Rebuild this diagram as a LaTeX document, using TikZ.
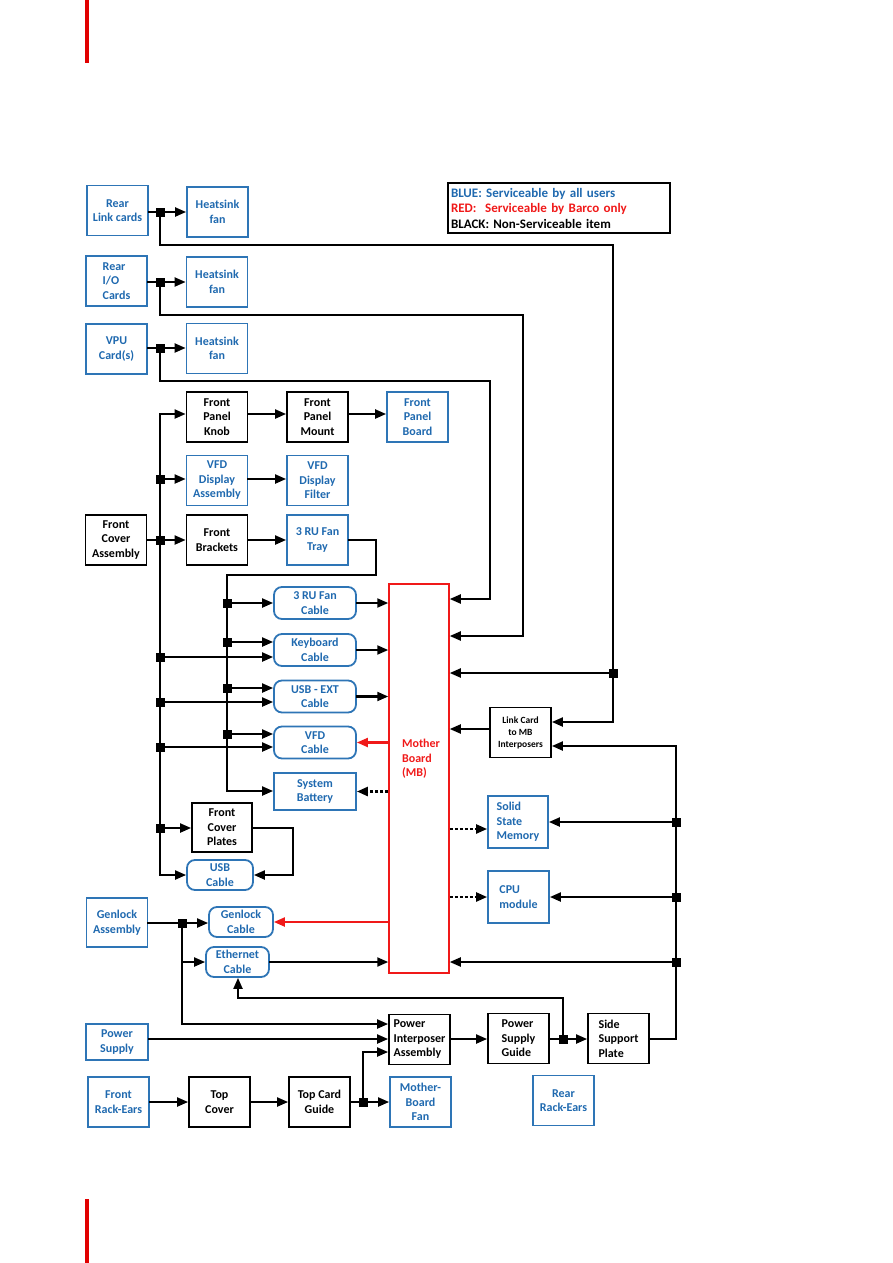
\documentclass[tikz,border=0pt]{standalone}
\usepackage{fontspec}
\setmainfont{Carlito}
\usetikzlibrary{arrows.meta}
\definecolor{bblue}{RGB}{46,117,182}
\definecolor{tblue}{RGB}{31,105,175}
\definecolor{rred}{RGB}{240,25,25}
\definecolor{barred}{RGB}{225,0,0}
\begin{document}
\begin{tikzpicture}[x=1pt,y=-1pt,
  base/.style={rectangle, inner sep=0pt, line width=1.8pt, minimum width=61pt, minimum height=50pt,
    font=\bfseries\fontsize{12}{14.5}\selectfont, align=center},
  bk/.style={base, draw=black, text=black},
  bl/.style={base, draw=bblue, text=tblue},
  cab/.style={bl, rounded corners=8pt, minimum width=82pt, minimum height=32pt},
  mbs/.style={rectangle, draw=rred, line width=1.5pt, minimum width=60pt, minimum height=389pt, inner sep=0pt},
  jn/.style={rectangle, fill=black, inner sep=0pt, minimum size=9pt},
  ln/.style={line width=2.1pt, line cap=rect, line join=miter},
  ar/.style={ln, -{Triangle[length=11pt,width=9pt]}},
  rar/.style={ar, color=rred},
  dar/.style={ar, line cap=butt, dash pattern=on 3pt off 2pt, line width=2.4pt},
]
\useasboundingbox (0,0) rectangle (893,1263);
\fill[barred] (85,0) rectangle (89,63);
\fill[barred] (85,1199) rectangle (89,1263);

% legend
\node[draw=black, line width=1.6pt, minimum width=222pt, minimum height=50pt, text width=216pt,
  inner sep=3pt, align=left, font=\bfseries\fontsize{13}{15.5}\selectfont] (leg) at (559,208)
  {{\color{tblue}BLUE: Serviceable by all users}\\{\color{rred}RED:\ \ Serviceable by Barco only}\\BLACK:\ Non-Serviceable item};

% nodes
\node[bl] (rlc) at (117.5,210.5) {Rear\\Link cards};
\node[bl] (hs1) at (217.5,212) {Heatsink\\fan};
\node[bl, align=left] (rio) at (116.5,281) {Rear\\I/O\\Cards};
\node[bl] (hs2) at (217,282) {Heatsink\\fan};
\node[bl] (vpu) at (116.5,349) {VPU\\Card(s)};
\node[bl] (hs3) at (217,348.5) {Heatsink\\fan};
\node[bk] (knob) at (217,417) {Front\\Panel\\Knob};
\node[bk] (mount) at (317.5,417) {Front\\Panel\\Mount};
\node[bl] (fpb) at (417.5,417) {Front\\Panel\\Board};
\node[bl] (vfda) at (217,480.5) {VFD\\Display\\Assembly};
\node[bl] (vfdf) at (317.5,480.5) {VFD\\Display\\Filter};
\node[bk] (fca) at (116,540) {Front\\Cover\\Assembly};
\node[bk] (fbr) at (217,540) {Front\\Brackets};
\node[bl] (ftray) at (317.5,540) {3 RU Fan\\Tray};
\node[cab] (c3ru) at (315,603) {3 RU Fan\\Cable};
\node[cab] (ckb) at (315,650) {Keyboard\\Cable};
\node[cab] (cusb) at (315,696.5) {USB - EXT\\Cable};
\node[cab] (cvfd) at (315,742.5) {VFD\\Cable};
\node[bl, minimum width=82pt, minimum height=37pt] (sbat) at (315,791.5) {System\\Battery};
\node[mbs] (mb) at (419,778.5) {};
\node[font=\bfseries\fontsize{12}{14.5}\selectfont, text=rred, align=left] (mbl) at (421,759) {Mother\\Board\\(MB)};
\node[bk, font=\bfseries\fontsize{9.5}{12}\selectfont] (lcard) at (520.5,732.5) {Link Card\\to MB\\Interposers};
\node[bl, align=left, minimum width=60pt, minimum height=52pt] (ssm) at (518,822) {Solid\\State\\Memory};
\node[bl, align=left, minimum height=52pt] (cpu) at (518.5,897) {CPU\\module};
\node[bk, minimum width=60pt, minimum height=49pt] (fcp) at (222,827.5) {Front\\Cover\\Plates};
\node[cab, minimum width=66pt, minimum height=30pt] (cusb2) at (220,875) {USB\\Cable};
\node[cab, minimum width=64pt, minimum height=30pt] (cgen) at (241,922) {Genlock\\Cable};
\node[cab, minimum width=63pt, minimum height=30pt] (ceth) at (237.5,962) {Ethernet\\Cable};
\node[bl, minimum height=49pt] (gla) at (117,922.5) {Genlock\\Assembly};
\node[bl, minimum width=62pt, minimum height=36pt] (psu) at (117,1042) {Power\\Supply};
\node[bl] (fre) at (118.5,1102) {Front\\Rack-Ears};
\node[bk] (tc) at (219.5,1102) {Top\\Cover};
\node[bk] (tcg) at (319.5,1102) {Top Card\\Guide};
\node[bl] (mbfan) at (420.5,1102) {Mother-\\Board\\Fan};
\node[bk, align=left] (pia) at (419.5,1039.5) {Power\\Interposer\\Assembly};
\node[bk, align=left] (psg) at (518.5,1038.5) {Power\\Supply\\Guide};
\node[bk, align=left] (ssp) at (618.5,1038.5) {Side\\Support\\Plate};
\node[bl] (rre) at (563.5,1100.5) {Rear\\Rack-Ears};

% rear link cards
\node[jn] (j1) at (160,212) {};
\coordinate (b1a) at (160,245); \coordinate (b1b) at (613,245); \coordinate (b1c) at (613,722);
\node[jn] (jr1) at (613,673) {};
\draw[ln] (rlc.east |- j1) -- (j1.center);
\draw[ar] (j1.center) -- (hs1.west |- j1);
\draw[ln] (j1.center) -- (b1a) -- (b1b) -- (jr1.center);
\draw[ar] (jr1.center) -- (b1c) -- (lcard.east |- b1c);
\draw[ar] (jr1.center) -- (mb.east |- jr1);

% rear I/O
\node[jn] (j2) at (160,282) {};
\coordinate (b2a) at (160,315); \coordinate (b2b) at (523,315); \coordinate (b2c) at (523,636);
\draw[ln] (rio.east |- j2) -- (j2.center);
\draw[ar] (j2.center) -- (hs2.west |- j2);
\draw[ar] (j2.center) -- (b2a) -- (b2b) -- (b2c) -- (mb.east |- b2c);

% VPU
\node[jn] (j3) at (160,348) {};
\coordinate (b3a) at (160,381); \coordinate (b3b) at (490,381); \coordinate (b3c) at (490,599);
\draw[ln] (vpu.east |- j3) -- (j3.center);
\draw[ar] (j3.center) -- (hs3.west |- j3);
\draw[ar] (j3.center) -- (b3a) -- (b3b) -- (b3c) -- (mb.east |- b3c);

% front trunk
\coordinate (t0) at (160,414);
\node[jn] (t1) at (160,479) {};
\node[jn] (t2) at (160,540) {};
\node[jn] (t3) at (160,657) {};
\node[jn] (t4) at (160,702) {};
\node[jn] (t5) at (160,747) {};
\node[jn] (t6) at (160,828) {};
\coordinate (t7) at (160,875);
\draw[ar] (t7) -- (t0) -- (knob.west |- t0);
\draw[ar] (t0 |- t7) -- (cusb2.west |- t7);
\draw[ar] (t1.center) -- (vfda.west |- t1);
\draw[ln] (fca.east |- t2) -- (t2.center);
\draw[ar] (t2.center) -- (fbr.west |- t2);
\draw[ar] (t3.center) -- (ckb.west |- t3);
\draw[ar] (t4.center) -- (cusb.west |- t4);
\draw[ar] (t5.center) -- (cvfd.west |- t5);
\draw[ar] (t6.center) -- (fcp.west |- t6);
\draw[ar] (knob.east |- t0) -- (mount.west |- t0);
\draw[ar] (mount.east |- t0) -- (fpb.west |- t0);
\draw[ar] (vfda.east |- t1) -- (vfdf.west |- t1);
\draw[ar] (fbr.east |- t2) -- (ftray.west |- t2);

% inner trunk
\coordinate (u0) at (376,540); \coordinate (u1) at (376,575); \coordinate (u2) at (227,575);
\node[jn] (u3) at (227,603) {};
\node[jn] (u4) at (227,642) {};
\node[jn] (u5) at (227,688) {};
\node[jn] (u6) at (227,734) {};
\coordinate (u7) at (227,791);
\draw[ar] (ftray.east |- u0) -- (u0) -- (u1) -- (u2) -- (u7) -- (sbat.west |- u7);
\draw[ar] (u3.center) -- (c3ru.west |- u3);
\draw[ar] (u4.center) -- (ckb.west |- u4);
\draw[ar] (u5.center) -- (cusb.west |- u5);
\draw[ar] (u6.center) -- (cvfd.west |- u6);

% cables to/from MB
\draw[ar] (c3ru.east) -- (mb.west |- c3ru.east);
\draw[ar] (ckb.east) -- (mb.west |- ckb.east);
\draw[ar] (cusb.east) -- (mb.west |- cusb.east);
\draw[rar] (mb.west |- cvfd.east) -- (cvfd.east);
\draw[dar] (mb.west |- sbat.east) -- (sbat.east);

% front cover plates -> USB cable
\coordinate (p1) at (293,828); \coordinate (p2) at (293,875);
\draw[ar] (fcp.east |- p1) -- (p1) -- (p2) -- (cusb2.east |- p2);

% genlock
\node[jn] (g1) at (182,923) {};
\coordinate (g2) at (182,962); \coordinate (g3) at (182,1024);
\draw[ln] (gla.east |- g1) -- (g1.center);
\draw[ar] (g1.center) -- (cgen.west |- g1);
\draw[ar] (g1.center) -- (g3) -- (pia.west |- g3);
\draw[ar] (g2) -- (ceth.west |- g2);
\draw[rar] (mb.west |- cgen.east) -- (cgen.east);
\draw[ar] (ceth.east) -- (mb.west |- ceth.east);

% power supply
\coordinate (q1) at (150,1039);
\draw[ar] (psu.east |- q1) -- (pia.west |- q1);

% bottom row
\draw[ar] (fre.east) -- (tc.west);
\draw[ar] (tc.east) -- (tcg.west);
\node[jn] (k1) at (363,1102) {};
\coordinate (k2) at (363,1052);
\draw[ln] (tcg.east) -- (k1.center);
\draw[ar] (k1.center) -- (mbfan.west |- k1);
\draw[ar] (k1.center) -- (k2) -- (pia.west |- k2);

% PIA -> PSG -> SSP
\node[jn] (r1) at (563,1039) {};
\draw[ar] (pia.east |- r1) -- (psg.west |- r1);
\draw[ln] (psg.east |- r1) -- (r1.center);
\draw[ar] (r1.center) -- (ssp.west |- r1);
\coordinate (r2) at (563,998); \coordinate (r3) at (238,998);
\draw[ar] (r1.center) -- (r2) -- (r3) -- (ceth.south -| r3);

% right trunk
\coordinate (s0) at (676,1039); \coordinate (s5) at (676,746);
\node[jn] (s1) at (676,962) {};
\node[jn] (s2) at (676,897) {};
\node[jn] (s3) at (676,822) {};
\draw[ar] (ssp.east |- s0) -- (s0) -- (s5) -- (lcard.east |- s5);
\draw[ar] (s1.center) -- (mb.east |- s1);
\draw[ar] (s2.center) -- (cpu.east |- s2);
\draw[ar] (s3.center) -- (ssm.east |- s3);

% link card -> MB
\coordinate (l1) at (500,729);
\draw[ar] (lcard.west |- l1) -- (mb.east |- l1);

% dashed MB -> SSM, CPU
\coordinate (d1) at (470,829);
\draw[dar] (mb.east |- d1) -- (ssm.west |- d1);
\draw[dar] (mb.east |- cpu.west) -- (cpu.west);
\end{tikzpicture}
\end{document}
